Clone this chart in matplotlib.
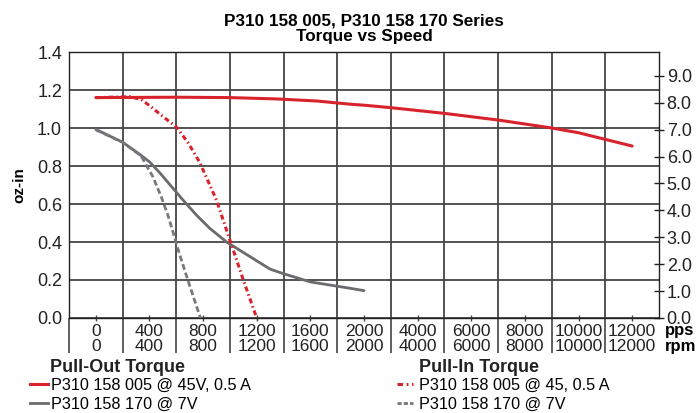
import matplotlib
matplotlib.use("Agg")
import numpy as np
import matplotlib.pyplot as plt
from matplotlib.lines import Line2D
from matplotlib.ticker import FixedLocator

plt.rcParams['font.family'] = ['Liberation Sans', 'DejaVu Sans']
plt.rcParams['lines.scale_dashes'] = False

# ---- axis definitions ----
SPEED_TICKS = [0, 400, 800, 1200, 1600, 2000, 4000, 6000, 8000, 10000, 12000]   # pps
RPM_TICKS = [0, 400, 800, 1200, 1600, 2000, 4000, 6000, 8000, 10000, 12000]     # rpm
TORQUE_TICKS = [0.0, 0.2, 0.4, 0.6, 0.8, 1.0, 1.2, 1.4]                          # oz-in
MNM_TICKS = [0, 1, 2, 3, 4, 5, 6, 7, 8, 9]                                       # mN-m

# ---- data (pps, oz-in) ----
po005_speed = [0, 600, 1000, 1350, 1650, 1900, 2000, 3000, 5000, 7000, 9000, 10000, 11000, 12000]
po005_torque = [1.16, 1.162, 1.16, 1.153, 1.142, 1.125, 1.12, 1.107, 1.077, 1.042, 1.0, 0.975, 0.94, 0.905]

po170_speed = [0, 200, 326, 400, 475, 575, 650, 750, 850, 975, 1150, 1300, 1400, 1600, 1900, 2000]
po170_torque = [0.993, 0.925, 0.862, 0.822, 0.766, 0.683, 0.621, 0.542, 0.472, 0.40, 0.323, 0.257,
                0.233, 0.19, 0.156, 0.144]

pi005_speed = [0, 250, 340, 414, 475, 537, 600, 686, 774, 850, 900, 1000, 1100, 1200]
pi005_torque = [1.16, 1.165, 1.15, 1.11, 1.075, 1.04, 1.005, 0.925, 0.82, 0.70, 0.62, 0.41, 0.20, 0.0]

pi170_speed = [0, 200, 339, 425, 488, 537, 575, 607, 686, 780]
pi170_torque = [0.99, 0.925, 0.852, 0.744, 0.638, 0.542, 0.454, 0.375, 0.20, 0.0]

RED = '#d8232d'
GRAY = '#6a6b6e'
GRAY2 = '#77787b'
GRID = '#444444'

IDX = np.arange(len(SPEED_TICKS), dtype=float)


def fwd(x):
    x = np.asarray(x, dtype=float)
    return (np.interp(x, SPEED_TICKS, IDX)
            + np.where(x < 0, x / 400.0, 0.0)
            + np.where(x > 12000, (x - 12000) / 2000.0, 0.0))


def inv(p):
    p = np.asarray(p, dtype=float)
    return (np.interp(p, IDX, SPEED_TICKS)
            + np.where(p < 0, p * 400.0, 0.0)
            + np.where(p > 10, (p - 10) * 2000.0, 0.0))


W, H = 698, 413
fig = plt.figure(figsize=(W / 100, H / 100), dpi=100)
ax = fig.add_axes([69 / W, 1 - 318 / H, 590 / W, 266 / H])
ax.set_xscale('function', functions=(fwd, inv))
ax.set_xlim(float(inv(-0.5)), float(inv(10.5)))
ax.set_ylim(0, 1.4)
ax.set_axisbelow(True)

# ticks
ax.xaxis.set_major_locator(FixedLocator(SPEED_TICKS))
ax.set_xticklabels([f"{s}\n{r}" for s, r in zip(SPEED_TICKS, RPM_TICKS)],
                   fontsize=12.5, linespacing=0.95, color='#222222')
minor = inv(np.arange(-0.5, 10.0, 1.0))
ax.xaxis.set_minor_locator(FixedLocator(minor))
ax.tick_params(axis='x', which='major', direction='inout', length=5, width=1,
               color=GRID, pad=2)
ax.tick_params(axis='x', which='minor', direction='out', length=25.5, width=1.2,
               color=GRID)
ax.grid(which='minor', axis='x', color=GRID, lw=1.3)

ax.set_yticks(TORQUE_TICKS)
ax.set_yticklabels([f"{t:.1f}" for t in TORQUE_TICKS], fontsize=13, color='#222222')
ax.tick_params(axis='y', length=0, pad=5)
ax.grid(which='major', axis='y', color=GRID, lw=1.3)

for sp in ax.spines.values():
    sp.set_color('#222222')
    sp.set_linewidth(1.0)

# curves
ax.plot(po005_speed, po005_torque, color=RED, lw=2.2, solid_capstyle='round', zorder=4)
ax.plot(po170_speed, po170_torque, color=GRAY, lw=2.0, solid_capstyle='round', zorder=3)
l1, = ax.plot(pi005_speed, pi005_torque, color=RED, lw=2.2, zorder=5)
l1.set_dashes((3.6, 2.2, 1.1, 2.2))
l2, = ax.plot(pi170_speed, pi170_torque, color=GRAY2, lw=2.0, zorder=4)
l2.set_dashes((4.2, 2.2))

# right axis in mN-m
ax2 = ax.twinx()
ax2.set_ylim(0, 1.4 * 7.0616)
ax2.set_yticks(MNM_TICKS)
ax2.set_yticklabels([f"{v:.1f}" for v in MNM_TICKS], fontsize=13, color='#222222')
ax2.tick_params(axis='y', direction='inout', length=7, width=1, color='#222222', pad=2)
for sp in ax2.spines.values():
    sp.set_visible(False)

# titles / labels
fig.text(364 / W, 1 - 25 / H, "P310 158 005, P310 158 170 Series", ha='center',
         va='baseline', fontsize=12.3, fontweight='bold')
fig.text(364 / W, 1 - 41.5 / H, "Torque vs Speed", ha='center', va='baseline',
         fontsize=12.3, fontweight='bold')
fig.text(19 / W, 1 - 185 / H, "oz-in", rotation=90, ha='center', va='center',
         fontsize=11, fontweight='bold')
fig.text(665 / W, 1 - 334.5 / H, "pps", ha='left', va='baseline', fontsize=12, fontweight='bold')
fig.text(665 / W, 1 - 350.5 / H, "rpm", ha='left', va='baseline', fontsize=12, fontweight='bold')

# legends
fig.text(50 / W, 1 - 371.7 / H, "Pull-Out Torque", ha='left', va='baseline',
         fontsize=13, fontweight='bold', color='#222222')
fig.text(419 / W, 1 - 371.7 / H, "Pull-In Torque", ha='left', va='baseline',
         fontsize=13, fontweight='bold', color='#222222')

h_po = [Line2D([], [], color=RED, lw=2.2), Line2D([], [], color=GRAY, lw=2.0)]
leg1 = fig.legend(h_po, ["P310 158 005 @ 45V, 0.5 A", "P310 158 170 @ 7V"],
                  loc='upper left', bbox_to_anchor=(30 / W, 1 - 378 / H),
                  frameon=False, fontsize=11.7, handlelength=1.1, handletextpad=0.2,
                  labelspacing=0.24, borderpad=0, borderaxespad=0)
hp1 = Line2D([], [], color=RED, lw=2.2)
hp1.set_dashes((4.0, 2.6, 1.3, 2.6))
hp2 = Line2D([], [], color=GRAY2, lw=2.0)
hp2.set_dashes((3.0, 1.5))
leg2 = fig.legend([hp1, hp2], ["P310 158 005 @ 45, 0.5 A", "P310 158 170 @ 7V"],
                  loc='upper left', bbox_to_anchor=(397 / W, 1 - 378 / H),
                  frameon=False, fontsize=11.7, handlelength=1.0, handletextpad=0.35,
                  labelspacing=0.24, borderpad=0, borderaxespad=0)

fig.savefig('out.png', dpi=100)
